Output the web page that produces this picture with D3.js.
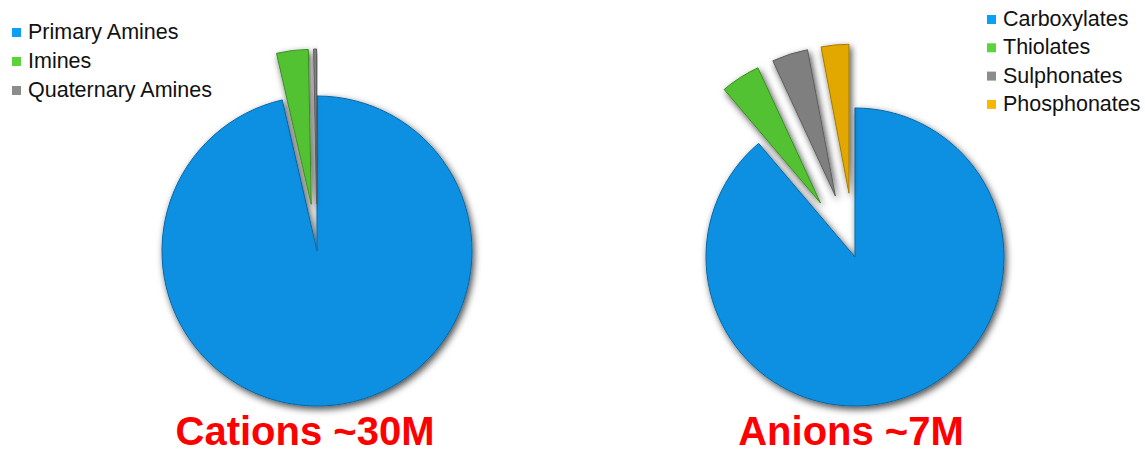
<!DOCTYPE html>
<html>
<head>
<meta charset="utf-8">
<script src="https://cdn.jsdelivr.net/npm/d3@7"></script>
<style>
    body { margin: 0; background: #fff; }
    text { font-family: "Liberation Sans", Arial, sans-serif; }
</style>
</head>
<body>
<script>
// pie data (percent of each total)
var cationLabels = ["Primary Amines", "Imines", "Quaternary Amines"];
var cationValues = [96.4, 3.3, 0.3];
var cationExploded = [false, true, true];

var anionLabels = ["Carboxylates", "Thiolates", "Sulphonates", "Phosphonates"];
var anionValues = [88.8, 4.3, 3.9, 3.0];
var anionExploded = [false, true, true, true];

var sliceColours = ["#0a90e2", "#52c232", "#7f7f7f", "#e2a800"];
var legendColours = ["#0aa0f5", "#5ad43a", "#8c8c8c", "#f8b800"];

var titles = ["Cations ~30M", "Anions ~7M"];

(function() {

    var width = 1145, height = 454;

    var svg = d3.select("body").append("svg")
        .attr("width", width)
        .attr("height", height);

    //soft shadow that sits round every slice
    var defs = svg.append("defs");
    var filter = defs.append("filter")
        .attr("id", "shade")
        .attr("x", "-30%").attr("y", "-30%")
        .attr("width", "160%").attr("height", "160%");
    filter.append("feDropShadow")
        .attr("dx", 2).attr("dy", 3)
        .attr("stdDeviation", 3.5)
        .attr("flood-color", "#000")
        .attr("flood-opacity", 0.7);

    var pie = d3.pie().sort(null).value(function(d) { return d; });

    var drawPie = function(values, exploded, cx, cy, radius, explode) {
        var arc = d3.arc().innerRadius(0).outerRadius(radius);
        var g = svg.append("g")
            .attr("transform", "translate(" + cx + "," + cy + ")");

        g.selectAll(".slice")
            .data(pie(values))
            .enter()
            .append("path")
            .attr("class", "slice")
            .attr("d", arc)
            .attr("filter", "url(#shade)")
            .attr("transform", function(d, i) {
                if (!exploded[i]) return null;
                var mid = (d.startAngle + d.endAngle) / 2;
                return "translate(" + (explode * Math.sin(mid)) + "," + (-explode * Math.cos(mid)) + ")";
            })
            .style("fill", function(d, i) { return sliceColours[i]; })
            .style("stroke", function(d, i) { return d3.color(sliceColours[i]).darker(0.9); })
            .style("stroke-width", 1)
            .style("stroke-linejoin", "round");
    };

    var drawLegend = function(labels, x, y0, step) {
        var rows = svg.append("g")
            .selectAll(".legend-row")
            .data(labels)
            .enter()
            .append("g")
            .attr("class", "legend-row")
            .attr("transform", function(d, i) { return "translate(" + x + "," + (y0 + i * step) + ")"; });

        rows.append("rect")
            .attr("x", 0).attr("y", -11)
            .attr("width", 9).attr("height", 9)
            .style("fill", function(d, i) { return legendColours[i]; });

        rows.append("text")
            .attr("x", 16)
            .attr("y", 0)
            .style("font-size", "21.5px")
            .style("fill", "#111")
            .text(function(d) { return d; });
    };

    drawPie(cationValues, cationExploded, 317, 251, 155, 47);
    drawPie(anionValues, anionExploded, 855, 257, 149, 64);

    drawLegend(cationLabels, 12, 39, 29);
    drawLegend(anionLabels, 987, 26, 28.3);

    svg.selectAll(".title")
        .data(titles)
        .enter()
        .append("text")
        .attr("class", "title")
        .attr("x", function(d, i) { return i === 0 ? 305 : 851; })
        .attr("y", 445)
        .attr("text-anchor", "middle")
        .style("font-size", "40px")
        .style("font-weight", "bold")
        .style("fill", "#ff0000")
        .text(function(d) { return d; });

}());
</script>
</body>
</html>
